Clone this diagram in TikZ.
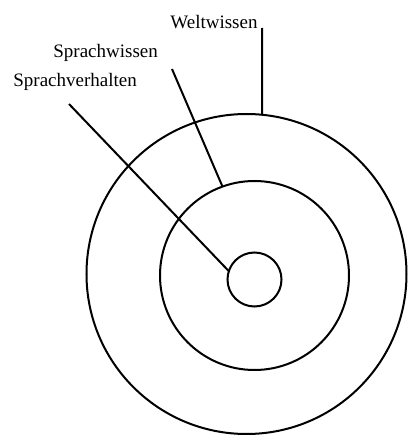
\documentclass[tikz,border=0pt]{standalone}
\usepackage{fontspec}
\setmainfont{Liberation Serif}
\usetikzlibrary{calc}

\begin{document}
\begin{tikzpicture}[x=0.5pt, y=0.5pt,
  lbl/.style={anchor=base west, inner sep=0pt, font=\fontsize{9.5}{11}\selectfont},
  ring/.style={line width=1pt}]

  \useasboundingbox (0,0) rectangle (408,435);

  % Centres of the rings
  \coordinate (O) at (246.5,161);
  \coordinate (M) at (254.5,159.5);
  \coordinate (I) at (254.5,155.5);

  % Rings
  \draw[ring] (O) circle (160);
  \draw[ring] (M) circle (94.5);
  \draw[ring] (I) circle (27);

  % Labels
  \node[lbl] (welt) at (170,407) {Weltwissen};
  \node[lbl] (wissen) at (53,378) {Sprachwissen};
  \node[lbl] (verhalten) at (13,349) {Sprachverhalten};

  % Ends of the connectors
  \coordinate (W1) at (262,407);
  \coordinate (W2) at ($(O)+(84.4:160)$);
  \coordinate (S1) at (172,366);
  \coordinate (S2) at ($(M)+(109.8:94.5)$);
  \coordinate (V1) at (69,331);
  \coordinate (V2) at ($(I)+(162:27)$);

  % Connectors
  \draw[ring] (W1) -- (W2);
  \draw[ring] (S1) -- (S2);
  \draw[ring] (V1) -- (V2);

\end{tikzpicture}
\end{document}
